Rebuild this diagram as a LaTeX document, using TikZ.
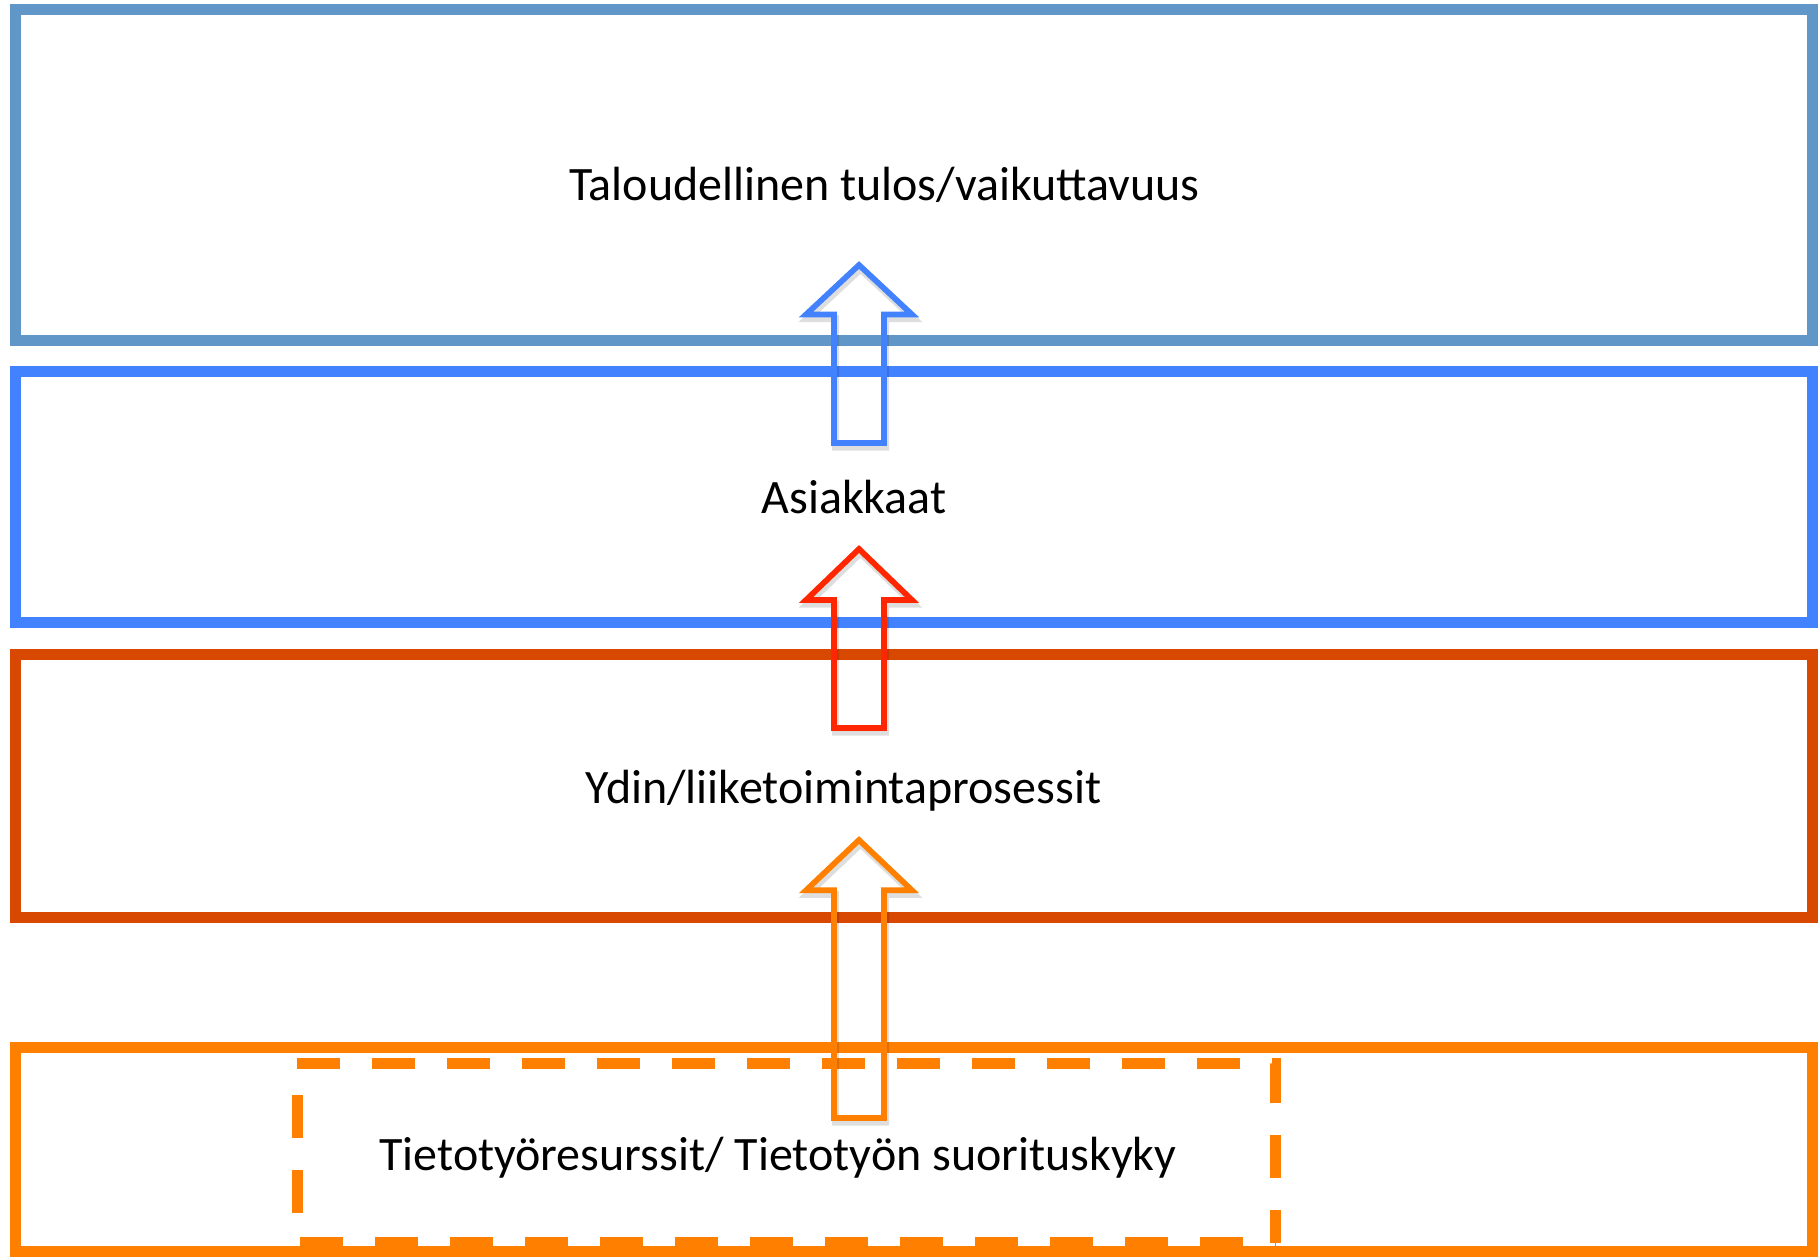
\documentclass[tikz,border=0pt]{standalone}
\usepackage{fontspec}
\setmainfont{Carlito}
\definecolor{boxA}{HTML}{6096C8}
\definecolor{boxB}{HTML}{4282FF}
\definecolor{boxC}{HTML}{D84800}
\definecolor{boxD}{HTML}{FF7F00}
\definecolor{arrB}{HTML}{4282FF}
\definecolor{arrR}{HTML}{FF2600}
\definecolor{arrO}{HTML}{FF8000}
\tikzset{
  layerbox/.style={line width=11, line join=miter},
  dashbox/.style={line width=11, draw=boxD, dash pattern=on 43 off 32, line cap=butt, line join=miter},
  label/.style={font=\fontsize{48}{58}\selectfont, anchor=base, inner sep=0},
  arrowline/.style={line width=5.7, line join=miter},
  arrowshadow/.style={line width=7, line join=miter, draw=black, opacity=0.13},
}
\newcommand\myblockarrow[5]{%
  \draw[arrowshadow, shift={(1.5,4)}] (#1,#2) -- (#1+53,#3) -- (#1+25,#3) -- (#1+25,#4) -- (#1-25,#4) -- (#1-25,#3) -- (#1-53,#3) -- cycle;
  \draw[arrowline, draw=#5] (#1,#2) -- (#1+53,#3) -- (#1+25,#3) -- (#1+25,#4) -- (#1-25,#4) -- (#1-25,#3) -- (#1-53,#3) -- cycle;
}
\begin{document}
\begin{tikzpicture}[x=1pt,y=-1pt]
\useasboundingbox[fill=white] (0,0) rectangle (1818,1256);
% layer boxes
\draw[layerbox, draw=boxA] (15,9.5) rectangle (1812.5,340.5);
\draw[layerbox, draw=boxB] (15,371.5) rectangle (1812.5,622.5);
\draw[layerbox, draw=boxC] (15,654.5) rectangle (1812.5,917);
\draw[layerbox, draw=boxD] (15,1047.5) rectangle (1812.5,1251);
% dashed inner box
\draw[dashbox] (297,1063) -- (1275,1063) -- (1275,1242.5);
\draw[dashbox, dash phase=43] (297,1063) -- (297,1242.5) -- (1275,1242.5);
% labels
\node[label] (tulos) at (884.5,200) {Taloudellinen tulos/vaikuttavuus};
\node[label] (asiakkaat) at (854,513) {Asiakkaat};
\node[label] (ydin) at (843.5,803) {Ydin/liiketoimintaprosessit};
\node[label] (tieto) at (778,1170) {Tietotyöresurssit/ Tietotyön suorituskyky};
% block arrows
\myblockarrow{859}{265}{314.5}{443}{arrB}
\myblockarrow{859}{549}{600}{728}{arrR}
\myblockarrow{859}{840}{890.3}{1118}{arrO}
\end{tikzpicture}
\end{document}
